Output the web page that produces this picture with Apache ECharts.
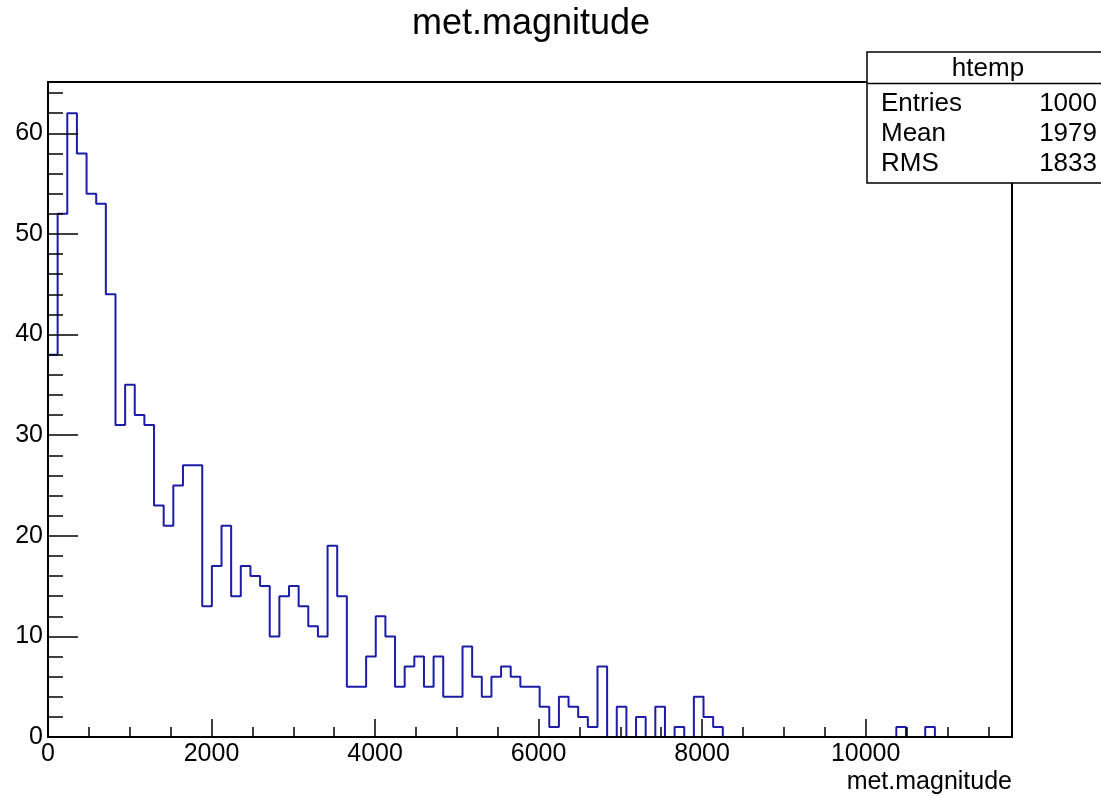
<!DOCTYPE html>
<html>
<head>
<meta charset="utf-8">
<title>met.magnitude</title>
<script src="https://cdn.jsdelivr.net/npm/echarts@6/dist/echarts.min.js"></script>
<style>
  html, body { margin: 0; padding: 0; background: #fff; }
  #chart { width: 1101px; height: 796px; }
</style>
</head>
<body>
<div id="chart"></div>
<script>
// histogram htemp: 100 bins from 0
var xMin = 0;
var binWidth = 117.9;
var counts = [
    38, 52, 62, 58, 54, 53, 44, 31, 35, 32,
    31, 23, 21, 25, 27, 27, 13, 17, 21, 14,
    17, 16, 15, 10, 14, 15, 13, 11, 10, 19,
    14, 5, 5, 8, 12, 10, 5, 7, 8, 5,
    8, 4, 4, 9, 6, 4, 6, 7, 6, 5,
    5, 3, 1, 4, 3, 2, 1, 7, 0, 3,
    0, 2, 0, 3, 0, 1, 0, 4, 2, 1,
    0, 0, 0, 0, 0, 0, 0, 0, 0, 0,
    0, 0, 0, 0, 0, 0, 0, 0, 1, 0,
    0, 1, 0, 0, 0, 0, 0, 0, 0, 0
];
var xTicks = [0, 2000, 4000, 6000, 8000, 10000];
var yTicks = [0, 10, 20, 30, 40, 50, 60];
var statsRows = [
    ['Entries', '1000'],
    ['Mean', '1979'],
    ['RMS', '1833']
];

var xMax = xMin + counts.length * binWidth;
var yMax = 62 * 1.05;

// step outline: left edge of each bin, then closing right edge
var stepData = counts.map(function (c, i) {
    return [xMin + i * binWidth, c];
});
stepData.push([xMax, counts[counts.length - 1]]);

var font = 'Liberation Sans, Arial, Helvetica, sans-serif';

var myChart = echarts.init(document.getElementById('chart'));

var statsEls = [{
    type: 'rect',
    shape: { x: 867, y: 52, width: 260, height: 131 },
    style: { fill: '#fff', stroke: '#000', lineWidth: 1.5 }
}, {
    type: 'line',
    shape: { x1: 867, y1: 83.5, x2: 1101, y2: 83.5 },
    style: { stroke: '#000', lineWidth: 1.5 }
}, {
    type: 'text',
    x: 988, y: 69,
    style: { text: 'htemp', font: '26px ' + font, fill: '#000', align: 'center', verticalAlign: 'middle' }
}];
statsRows.forEach(function (row, i) {
    statsEls.push({
        type: 'text',
        x: 881, y: 104 + i * 30,
        style: { text: row[0], font: '26px ' + font, fill: '#000', align: 'left', verticalAlign: 'middle' }
    });
    statsEls.push({
        type: 'text',
        x: 1097, y: 104 + i * 30,
        style: { text: row[1], font: '26px ' + font, fill: '#000', align: 'right', verticalAlign: 'middle' }
    });
});

var option = {
    animation: false,
    backgroundColor: '#fff',
    title: {
        text: 'met.magnitude',
        left: 412,
        top: 6,
        padding: 0,
        textStyle: { fontSize: 36, fontWeight: 'normal', fontFamily: font, color: '#000' }
    },
    grid: {
        left: 48,
        top: 82,
        right: 89,
        bottom: 59,
        show: true,
        borderColor: '#000',
        borderWidth: 2,
        backgroundColor: 'transparent'
    },
    xAxis: [{
        type: 'value',
        min: xMin,
        max: xMax,
        interval: 2000,
        position: 'bottom',
        z: 5,
        axisLine: { show: true, lineStyle: { color: '#000', width: 2 } },
        axisTick: { show: true, inside: true, length: 18, lineStyle: { color: '#000', width: 1.5 } },
        axisLabel: {
            margin: 5,
            fontSize: 25,
            fontFamily: font,
            color: '#000',
            formatter: function (v) {
                return xTicks.indexOf(v) >= 0 ? String(v) : '';
            }
        },
        splitLine: { show: false }
    }, {
        // minor ticks
        type: 'value',
        min: xMin,
        max: xMax,
        interval: 500,
        position: 'bottom',
        z: 5,
        axisLine: { show: false },
        axisTick: { show: true, inside: true, length: 10, lineStyle: { color: '#000', width: 1.5 } },
        axisLabel: { show: false },
        splitLine: { show: false }
    }],
    yAxis: [{
        type: 'value',
        min: 0,
        max: yMax,
        interval: 10,
        position: 'left',
        z: 5,
        axisLine: { show: true, lineStyle: { color: '#000', width: 2 } },
        axisTick: { show: true, inside: true, length: 30, lineStyle: { color: '#000', width: 1.5 } },
        axisLabel: {
            margin: 5,
            fontSize: 25,
            fontFamily: font,
            color: '#000',
            formatter: function (v) {
                return yTicks.indexOf(v) >= 0 ? String(v) : '';
            }
        },
        splitLine: { show: false }
    }, {
        // minor ticks
        type: 'value',
        min: 0,
        max: yMax,
        interval: 2,
        position: 'left',
        z: 5,
        axisLine: { show: false },
        axisTick: { show: true, inside: true, length: 15, lineStyle: { color: '#000', width: 1.5 } },
        axisLabel: { show: false },
        splitLine: { show: false }
    }],
    series: [{
        name: 'htemp',
        type: 'line',
        step: 'end',
        xAxisIndex: 0,
        yAxisIndex: 0,
        symbol: 'none',
        lineStyle: { color: '#1c1ca8', width: 2 },
        data: stepData
    }],
    graphic: [{
        type: 'text',
        right: 89,
        top: 770,
        style: { text: 'met.magnitude', font: '25px ' + font, fill: '#000' }
    }, {
        type: 'group',
        z: 100,
        children: statsEls
    }]
};

myChart.setOption(option);
</script>
</body>
</html>
